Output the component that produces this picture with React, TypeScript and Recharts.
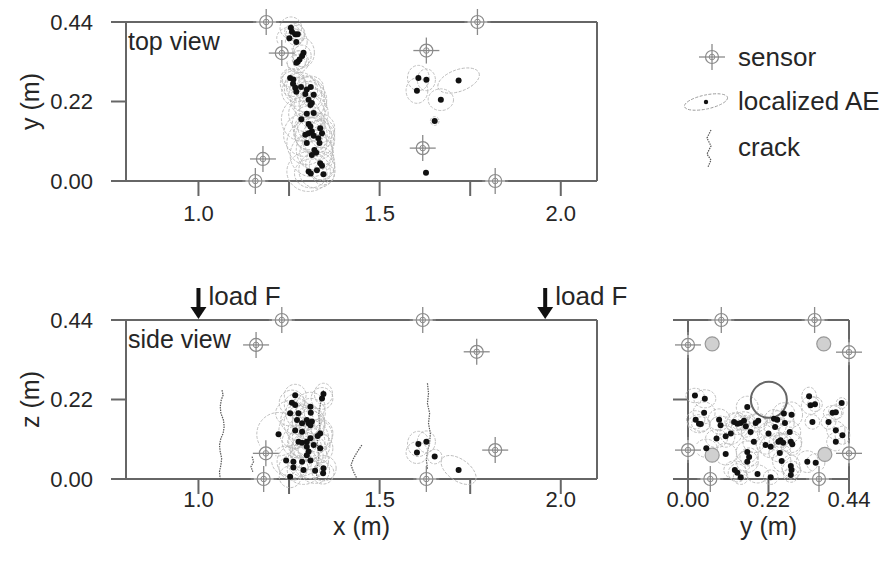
import React from 'react';
import { ScatterChart, Scatter, XAxis, YAxis, ReferenceDot } from 'recharts';

const FONT = '"Liberation Sans", Arial, Helvetica, sans-serif';
const AXIS = '#666';
const INK = '#262626';
const GRID_GREY = '#b8b8b8';

// axes (metres)
const xDomain = [0.8, 2.1];
const hDomain = [0, 0.44];
const xTicks = [1.0, 1.25, 1.5, 1.75, 2.0];
const hTicks = [0, 0.22, 0.44];

// sensor positions [x, y] / [x, z] / [y, z]
const topSensors = [[1.187, 0.44], [1.23, 0.354], [1.178, 0.061], [1.157, 0], [1.77, 0.44], [1.629, 0.361], [1.619, 0.091], [1.819, 0]];
const sideSensors = [[1.23, 0.44], [1.159, 0.371], [1.186, 0.071], [1.18, 0], [1.619, 0.44], [1.768, 0.352], [1.819, 0.08], [1.629, 0]];
const endSensors = [[0.091, 0.44], [0.346, 0.44], [0, 0.371], [0.44, 0.351], [0, 0.08], [0.44, 0.071], [0.061, 0], [0.358, 0]];
const rebars = [[0.066, 0.374], [0.371, 0.374], [0.066, 0.066], [0.374, 0.068]];
const duct = [[0.221, 0.219]];
const loads = [1.0, 1.957];

// localized AE: [pos, pos, error a, error b, tilt deg]
const topAE = [
  [1.255, 0.424, 0.03, 0.03], [1.258, 0.413, 0.02, 0.02], [1.267, 0.406, 0.025, 0.03], [1.274, 0.406, 0.02, 0.025],
  [1.251, 0.395, 0.035, 0.03], [1.27, 0.385, 0.03, 0.035], [1.29, 0.355, 0.03, 0.04], [1.286, 0.346, 0.025, 0.03],
  [1.279, 0.336, 0.02, 0.025], [1.274, 0.33, 0.03, 0.03], [1.27, 0.327, 0.025, 0.02], [1.253, 0.285, 0.025, 0.025],
  [1.262, 0.281, 0.03, 0.03], [1.261, 0.269, 0.035, 0.035], [1.267, 0.258, 0.03, 0.04], [1.283, 0.26, 0.04, 0.04],
  [1.299, 0.253, 0.03, 0.035], [1.31, 0.26, 0.035, 0.03], [1.295, 0.241, 0.045, 0.05], [1.318, 0.239, 0.03, 0.04],
  [1.27, 0.247, 0.04, 0.04], [1.304, 0.225, 0.05, 0.05], [1.313, 0.216, 0.035, 0.04], [1.309, 0.21, 0.045, 0.05],
  [1.318, 0.188, 0.04, 0.045], [1.299, 0.186, 0.05, 0.05], [1.284, 0.171, 0.055, 0.06], [1.304, 0.158, 0.045, 0.05],
  [1.309, 0.151, 0.035, 0.04], [1.313, 0.137, 0.05, 0.055], [1.336, 0.146, 0.04, 0.04], [1.341, 0.132, 0.035, 0.04],
  [1.295, 0.128, 0.06, 0.06], [1.304, 0.132, 0.04, 0.045], [1.318, 0.125, 0.05, 0.05], [1.331, 0.118, 0.045, 0.05],
  [1.299, 0.105, 0.055, 0.06], [1.334, 0.105, 0.04, 0.045], [1.32, 0.086, 0.05, 0.055], [1.325, 0.078, 0.045, 0.05],
  [1.313, 0.072, 0.06, 0.06], [1.336, 0.049, 0.04, 0.045], [1.341, 0.042, 0.035, 0.04], [1.327, 0.03, 0.05, 0.05],
  [1.304, 0.026, 0.06, 0.055], [1.31, 0.021, 0.045, 0.04], [1.345, 0.019, 0.03, 0.03],
  [1.607, 0.285, 0.03, 0.035], [1.629, 0.28, 0.025, 0.03], [1.603, 0.25, 0.03, 0.035], [1.669, 0.225, 0.035, 0.03],
  [1.718, 0.278, 0.06, 0.03, -20], [1.652, 0.166, 0.012, 0.012], [1.628, 0.023, 0, 0],
];

const sideAE = [
  [1.267, 0.232, 0.03, 0.03], [1.345, 0.235, 0.025, 0.03], [1.341, 0.223, 0.03, 0.03], [1.258, 0.211, 0.035, 0.035],
  [1.267, 0.205, 0.03, 0.03], [1.309, 0.2, 0.04, 0.04], [1.253, 0.182, 0.04, 0.035], [1.276, 0.182, 0.035, 0.04],
  [1.31, 0.183, 0.04, 0.04], [1.272, 0.163, 0.045, 0.04], [1.299, 0.163, 0.04, 0.045], [1.313, 0.159, 0.035, 0.04],
  [1.304, 0.154, 0.045, 0.045], [1.309, 0.149, 0.04, 0.04], [1.286, 0.154, 0.05, 0.05], [1.267, 0.134, 0.045, 0.05],
  [1.286, 0.131, 0.04, 0.04], [1.336, 0.126, 0.035, 0.04], [1.221, 0.124, 0.06, 0.06], [1.329, 0.119, 0.04, 0.045],
  [1.309, 0.113, 0.05, 0.05], [1.276, 0.103, 0.045, 0.045], [1.286, 0.1, 0.04, 0.04], [1.299, 0.103, 0.05, 0.05],
  [1.318, 0.094, 0.045, 0.045], [1.299, 0.089, 0.04, 0.04], [1.336, 0.085, 0.035, 0.04], [1.304, 0.076, 0.05, 0.05],
  [1.299, 0.066, 0.045, 0.04], [1.242, 0.051, 0.04, 0.04], [1.262, 0.048, 0.045, 0.045], [1.286, 0.048, 0.04, 0.04],
  [1.309, 0.051, 0.05, 0.05], [1.262, 0.032, 0.04, 0.035], [1.29, 0.025, 0.045, 0.04], [1.322, 0.023, 0.04, 0.035],
  [1.344, 0.016, 0.03, 0.03], [1.345, 0.03, 0.035, 0.035], [1.253, 0.006, 0.03, 0.03],
  [1.607, 0.097, 0.03, 0.035], [1.629, 0.103, 0.025, 0.03], [1.603, 0.073, 0.03, 0.03], [1.652, 0.062, 0.02, 0.02],
  [1.718, 0.025, 0.055, 0.03, 35],
];

const endAE = [
  [0.019, 0.231, 0.025, 0.02], [0.046, 0.222, 0.03, 0.025], [0.044, 0.183, 0.03, 0.03], [0.021, 0.164, 0.025, 0.025],
  [0.03, 0.153, 0.03, 0.025], [0.035, 0.152, 0.025, 0.02], [0.085, 0.164, 0.03, 0.03], [0.089, 0.149, 0.03, 0.025],
  [0.126, 0.158, 0.025, 0.025], [0.135, 0.153, 0.03, 0.03], [0.144, 0.155, 0.025, 0.02], [0.153, 0.161, 0.03, 0.025],
  [0.158, 0.146, 0.025, 0.03], [0.162, 0.199, 0.03, 0.03], [0.185, 0.155, 0.03, 0.025], [0.192, 0.161, 0.025, 0.02],
  [0.117, 0.126, 0.03, 0.03], [0.103, 0.118, 0.025, 0.03], [0.078, 0.112, 0.03, 0.025], [0.171, 0.13, 0.025, 0.025],
  [0.22, 0.126, 0.03, 0.03], [0.235, 0.167, 0.025, 0.025], [0.244, 0.164, 0.02, 0.025], [0.262, 0.181, 0.03, 0.03],
  [0.238, 0.144, 0.03, 0.025], [0.265, 0.155, 0.025, 0.03], [0.283, 0.178, 0.03, 0.035], [0.278, 0.13, 0.03, 0.03],
  [0.18, 0.103, 0.03, 0.03], [0.212, 0.094, 0.025, 0.025], [0.226, 0.089, 0.03, 0.03], [0.247, 0.103, 0.025, 0.025],
  [0.253, 0.107, 0.02, 0.02], [0.26, 0.1, 0.025, 0.025], [0.281, 0.103, 0.03, 0.03], [0.285, 0.096, 0.025, 0.03],
  [0.251, 0.072, 0.03, 0.025], [0.256, 0.05, 0.025, 0.03], [0.162, 0.075, 0.03, 0.03], [0.167, 0.061, 0.025, 0.025],
  [0.162, 0.048, 0.03, 0.03], [0.103, 0.069, 0.03, 0.03], [0.05, 0.085, 0.03, 0.025], [0.128, 0.025, 0.03, 0.025],
  [0.135, 0.017, 0.025, 0.025], [0.144, 0.005, 0.02, 0.02], [0.19, 0.014, 0.03, 0.025], [0.281, 0.036, 0.025, 0.03],
  [0.283, 0.025, 0.025, 0.025], [0.281, 0.011, 0.02, 0.02], [0.226, 0.005, 0.02, 0.02], [0.331, 0.229, 0.02, 0.025],
  [0.335, 0.204, 0.025, 0.025], [0.347, 0.207, 0.02, 0.02], [0.42, 0.21, 0.015, 0.015], [0.395, 0.183, 0.025, 0.02],
  [0.404, 0.185, 0.02, 0.02], [0.34, 0.158, 0.02, 0.02], [0.384, 0.158, 0.02, 0.02], [0.404, 0.135, 0.025, 0.025],
  [0.422, 0.121, 0.02, 0.025], [0.404, 0.103, 0.025, 0.025], [0.326, 0.048, 0.03, 0.03], [0.349, 0.045, 0.025, 0.025],
];

// cracks seen in the side view [x, z]
const cracks = [
  [[1.065, 0.246], [1.068, 0.232], [1.063, 0.219], [1.06, 0.2], [1.062, 0.182], [1.069, 0.163], [1.071, 0.145], [1.068, 0.126], [1.062, 0.113], [1.058, 0.094], [1.06, 0.076], [1.064, 0.057], [1.062, 0.039], [1.058, 0.02], [1.06, 0]],
  [[1.148, 0.062], [1.152, 0.048], [1.145, 0.034], [1.15, 0.02]],
  [[1.345, 0.245], [1.338, 0.215], [1.332, 0.18], [1.335, 0.14], [1.328, 0.1], [1.332, 0.06], [1.325, 0.02], [1.328, 0]],
  [[1.451, 0.094], [1.439, 0.076], [1.428, 0.057], [1.421, 0.039], [1.428, 0.02], [1.437, 0.002]],
  [[1.632, 0.265], [1.635, 0.237], [1.632, 0.209], [1.638, 0.182], [1.635, 0.154], [1.64, 0.126], [1.638, 0.099], [1.632, 0.076], [1.629, 0.053], [1.632, 0.03], [1.629, 0.002]],
];

const pts = (rows: number[][]) => rows.map((r) => ({ x: r[0], y: r[1] }));
const aePts = (rows: number[][]) => rows.map((r) => ({ x: r[0], y: r[1], ea: r[2], eb: r[3], tilt: r[4] || 0 }));

// plot sizes in px, used to turn error sizes (m) into ellipse radii
const LONG_W = 471;
const PLOT_H = 159;
const END_W = 161;

const Sensor = ({ cx, cy }: any) => (
  <g>
    <circle cx={cx} cy={cy} r={10} fill="#fff" />
    <line x1={cx - 13} x2={cx + 13} y1={cy} y2={cy} stroke="#8a8a8a" strokeWidth={1.3} />
    <line x1={cx} x2={cx} y1={cy - 13} y2={cy + 13} stroke="#8a8a8a" strokeWidth={1.3} />
    <circle cx={cx} cy={cy} r={6.5} fill="none" stroke="#8a8a8a" strokeWidth={1.2} />
    <circle cx={cx} cy={cy} r={2.8} fill="none" stroke="#8a8a8a" strokeWidth={1} />
  </g>
);

const ellipseShape = (kx: number, ky: number) => (p: any) => {
  const { cx, cy, payload } = p;
  if (!payload.ea) return <g />;
  return (
    <ellipse
      cx={cx} cy={cy} rx={payload.ea * kx} ry={payload.eb * ky}
      transform={`rotate(${payload.tilt} ${cx} ${cy})`}
      fill="none" stroke={GRID_GREY} strokeWidth={0.9} strokeDasharray="3 1.5"
    />
  );
};

const Dot = ({ cx, cy }: any) => <circle cx={cx} cy={cy} r={3} fill="#111" />;
const Rebar = ({ cx, cy }: any) => <circle cx={cx} cy={cy} r={7} fill="#d0d0d0" stroke="#999" strokeWidth={1.2} />;
const Duct = ({ cx, cy }: any) => <circle cx={cx} cy={cy} r={18} fill="none" stroke="#666" strokeWidth={2} />;
const Empty = () => <g />;

const LoadArrow = ({ cx, cy }: any) => (
  <g>
    <rect x={cx - 2} y={cy - 32} width={4} height={20} fill="#111" />
    <polygon points={`${cx - 8},${cy - 13} ${cx + 8},${cy - 13} ${cx},${cy - 1}`} fill="#111" />
    <text x={cx + 10} y={cy - 24} fontSize={26} fontFamily={FONT} fill={INK} dominantBaseline="central">load F</text>
  </g>
);

const VTitle = ({ viewBox, text, dx }: any) => {
  const x = viewBox.x + dx;
  const y = viewBox.y + viewBox.height / 2;
  return (
    <text x={x} y={y} transform={`rotate(-90 ${x} ${y})`} textAnchor="middle" dominantBaseline="central" fontSize={25} fontFamily={FONT} fill={INK}>
      {text}
    </text>
  );
};

const HTitle = ({ viewBox, text, dy }: any) => (
  <text x={viewBox.x + viewBox.width / 2} y={viewBox.y + dy} textAnchor="middle" dominantBaseline="central" fontSize={25} fontFamily={FONT} fill={INK}>
    {text}
  </text>
);

const axisLine = { stroke: AXIS, strokeWidth: 2 };
const tickStyle = { fontSize: 22, fontFamily: FONT, fill: INK };
const noLabel = () => '';
const xFmt = (v: number) => (Math.round(v * 4) % 2 === 0 ? v.toFixed(1) : '');
const hFmt = (v: number) => v.toFixed(2);

const frameAxes = (xs: number[], xd: number[], bottomFmt: any, gap: number, yLabel: any, xLabel: any) => [
  <XAxis key="xb" xAxisId="b" type="number" dataKey="x" orientation="bottom" domain={xd} ticks={xs} height={45}
    tickSize={15} tickMargin={gap} axisLine={axisLine} tickLine={axisLine} tick={tickStyle} tickFormatter={bottomFmt} label={xLabel} />,
  <XAxis key="xt" xAxisId="t" type="number" dataKey="x" orientation="top" domain={xd} ticks={xs} height={15}
    tickSize={15} axisLine={axisLine} tickLine={axisLine} tick={tickStyle} tickFormatter={noLabel} />,
  <YAxis key="yl" yAxisId="l" type="number" dataKey="y" orientation="left" domain={hDomain} ticks={hTicks} width={yLabel ? 60 : 15}
    tickSize={15} tickMargin={18} axisLine={axisLine} tickLine={axisLine} tick={tickStyle}
    tickFormatter={yLabel ? hFmt : noLabel} label={yLabel || undefined} />,
  <YAxis key="yr" yAxisId="r" type="number" dataKey="y" orientation="right" domain={hDomain} ticks={hTicks} width={15}
    tickSize={15} axisLine={axisLine} tickLine={axisLine} tick={tickStyle} tickFormatter={noLabel} />,
];

const ids = { xAxisId: 'b', yAxisId: 'l', isAnimationActive: false };

const Legend = () => (
  <svg width={886} height={561} style={{ position: 'absolute', left: 0, top: 0, pointerEvents: 'none' }}>
    <g fontFamily={FONT} fill={INK} fontSize={26}>
      <text x={128} y={41} dominantBaseline="central" fontSize={25}>top view</text>
      <text x={128} y={339} dominantBaseline="central" fontSize={25}>side view</text>
      <Sensor cx={712} cy={57} />
      <text x={738} y={57} dominantBaseline="central">sensor</text>
      <ellipse cx={706} cy={102} rx={22} ry={7} transform="rotate(-12 706 102)" fill="none" stroke="#999" strokeWidth={0.9} strokeDasharray="3 1.5" />
      <circle cx={706} cy={102} r={2.2} fill="#111" />
      <text x={738} y={101} dominantBaseline="central">localized AE</text>
      <polyline points="711,130 707,138 711,146 707,154 711,160 708,167" fill="none" stroke="#555" strokeWidth={1.2} strokeDasharray="1.5 1" />
      <text x={738} y={147} dominantBaseline="central">crack</text>
    </g>
  </svg>
);

export default function App() {
  const kLong = LONG_W / (xDomain[1] - xDomain[0]);
  const kH = PLOT_H / (hDomain[1] - hDomain[0]);
  const kEnd = END_W / (hDomain[1] - hDomain[0]);
  const top = aePts(topAE);
  const side = aePts(sideAE);
  const end = aePts(endAE);

  return (
    <div style={{ position: 'absolute', left: 0, top: 0, width: 886, height: 561, background: '#fff', fontFamily: FONT }}>
      <div style={{ position: 'absolute', left: 0, top: 0 }}>
        <ScatterChart width={886} height={235} margin={{ top: 7, right: 274, bottom: 9, left: 66 }}>
          {frameAxes(xTicks, xDomain, xFmt, 9, <VTitle text="y (m)" dx={-36} />, undefined)}
          <Scatter {...ids} data={top} shape={ellipseShape(kLong, kH)} />
          <Scatter {...ids} data={top} shape={Dot} />
          <Scatter {...ids} data={pts(topSensors)} shape={Sensor} />
        </ScatterChart>
      </div>
      <div style={{ position: 'absolute', left: 0, top: 280 }}>
        <ScatterChart width={886} height={281} margin={{ top: 25, right: 274, bottom: 37, left: 66 }}>
          {frameAxes(xTicks, xDomain, xFmt, -3, <VTitle text="z (m)" dx={-36} />, <HTitle text="x (m)" dy={47} />)}
          {cracks.map((c, i) => (
            <Scatter key={i} {...ids} data={pts(c)} shape={Empty}
              line={{ stroke: '#555', strokeWidth: 1.2, strokeDasharray: '1.5 1' }} />
          ))}
          <Scatter {...ids} data={side} shape={ellipseShape(kLong, kH)} />
          <Scatter {...ids} data={side} shape={Dot} />
          <Scatter {...ids} data={pts(sideSensors)} shape={Sensor} />
          {loads.map((x) => (
            <ReferenceDot key={x} xAxisId="b" yAxisId="l" x={x} y={0.44} ifOverflow="visible" shape={LoadArrow} />
          ))}
        </ScatterChart>
      </div>
      <div style={{ position: 'absolute', left: 600, top: 280 }}>
        <ScatterChart width={286} height={281} margin={{ top: 25, right: 22, bottom: 37, left: 73 }}>
          {frameAxes(hTicks, hDomain, hFmt, -3, null, <HTitle text="y (m)" dy={47} />)}
          <Scatter {...ids} data={end} shape={ellipseShape(kEnd, kH)} />
          <Scatter {...ids} data={pts(rebars)} shape={Rebar} />
          <Scatter {...ids} data={pts(duct)} shape={Duct} />
          <Scatter {...ids} data={end} shape={Dot} />
          <Scatter {...ids} data={pts(endSensors)} shape={Sensor} />
        </ScatterChart>
      </div>
      <Legend />
    </div>
  );
}
